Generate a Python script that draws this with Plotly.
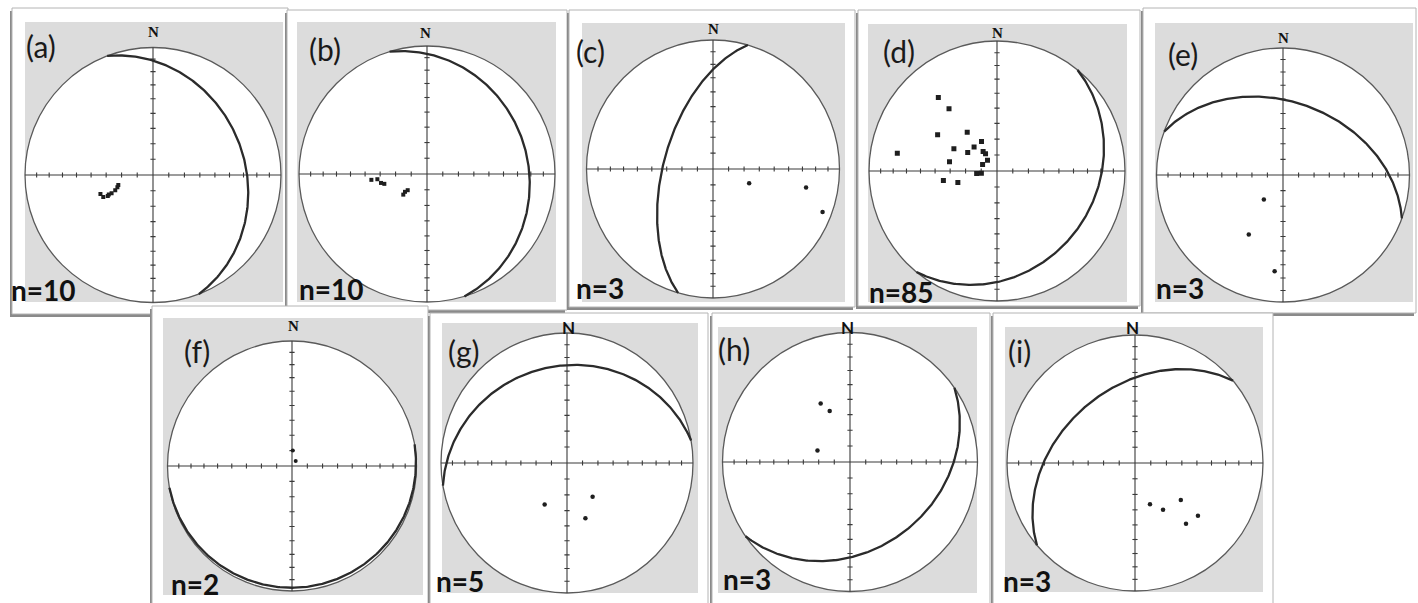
import numpy as np
import plotly.graph_objects as go

W, H = 1418, 603

# ---------------------------------------------------------------- data
panel_ids = ["a", "b", "c", "d", "e", "f", "g", "h", "i"]
panel_counts = [10, 10, 3, 85, 3, 2, 5, 3, 3]

# mean plane of each site (strike / dip, right-hand rule)
plane_strike = [339, 343, 196, 39, 290, 80, 260, 55, 230]
plane_dip = [29, 22, 58, 24, 42, 3, 26, 32, 41]

# poles to planes (trend / plunge, degrees)
pole_trend_a = [250, 246, 245, 246, 246, 248, 251, 254]
pole_plunge_a = [54, 55, 58, 59, 61, 64, 66, 67]
pole_trend_b = [264, 264, 259, 257, 229, 231, 230]
pole_plunge_b = [54, 58, 60, 62, 70, 72, 74]
pole_trend_c = [111, 101, 111]
pole_plunge_c = [65, 26, 8]
pole_trend_d = [321, 322, 301, 322, 280, 297, 316, 302, 332,
                324, 326, 318, 281, 294, 263, 262, 260, 254]
pole_plunge_d = [28, 39, 45, 59, 22, 59, 69, 68, 69,
                 75, 77, 81, 59, 80, 77, 80, 55, 64]
pole_trend_e = [218, 210, 185]
pole_plunge_e = [70, 45, 25]
pole_trend_f = [3, 37]
pole_plunge_f = [80, 86]
pole_trend_g = [209, 142, 161]
pole_plunge_g = [60, 63, 53]
pole_trend_h = [333, 338, 289]
pole_plunge_h = [48, 55, 68]
pole_trend_i = [160, 149, 129, 130, 140]
pole_plunge_i = [62, 55, 52, 36, 38]

pole_trends = [pole_trend_a, pole_trend_b, pole_trend_c, pole_trend_d, pole_trend_e,
               pole_trend_f, pole_trend_g, pole_trend_h, pole_trend_i]
pole_plunges = [pole_plunge_a, pole_plunge_b, pole_plunge_c, pole_plunge_d, pole_plunge_e,
                pole_plunge_f, pole_plunge_g, pole_plunge_h, pole_plunge_i]

# graticule ticks every 10 degrees of plunge along the N-S and E-W axes
tick_plunges = [80, 70, 60, 50, 40, 30, 20, 10]

# ---------------------------------------------------------------- layout of the sheet (pixels)
net_center = [(153, 175), (427, 174), (713, 169), (997, 171), (1283, 175),
              (292, 466), (567, 463), (850, 462), (1135, 463)]
net_radius = [(128, 127.5), (128, 128), (126.5, 129), (128, 130), (126.5, 127),
              (124.5, 125), (126, 130), (127.5, 129.5), (128, 128)]
frame_box = [(12, 8, 288, 314), (287, 10, 567, 310), (569, 10, 855, 307),
             (858, 10, 1140, 306), (1143, 8, 1416, 313),
             (152, 306, 428, 610), (430, 313, 708, 610), (712, 313, 990, 610),
             (993, 313, 1273, 610)]
gray_box = [(25, 22, 283, 302), (297, 22, 556, 302), (582, 23, 845, 302),
            (868, 24, 1127, 302), (1155, 23, 1413, 302),
            (163, 318, 423, 595), (442, 323, 698, 593), (718, 327, 977, 593),
            (1005, 327, 1263, 592)]
tag_pos = [(24, 46), (307, 49), (574, 51), (881, 51), (1166, 54),
           (182, 351), (446, 351), (716, 349), (1006, 351)]
count_pos = [(9, 290), (297, 289), (574, 288), (867, 292), (1154, 288),
             (169, 584), (434, 581), (721, 579), (1001, 581)]
north_pos = [(153, 32), (426, 33), (713, 29), (997, 33), (1283, 38),
             (293, 326), (568, 327), (848, 327), (1132, 327)]
north_sans = [False, False, False, False, False, False, True, True, True]
pole_symbol = ["square", "square", "circle", "square", "circle",
               "circle", "circle", "circle", "circle"]
pole_size = [4, 4, 4.5, 5, 4.5, 4, 4.5, 4.5, 4.5]

LINE_DARK = "#2b2b2b"
PRIM = "#5a5a5a"
GRAY_BG = "#dcdcdc"


def project(trend, plunge):
    """Lambert equal-area (Schmidt) projection, lower hemisphere."""
    tr = np.radians(np.asarray(trend, dtype=float))
    pl = np.radians(np.asarray(plunge, dtype=float))
    r = np.sqrt(2.0) * np.sin((np.pi / 2 - pl) / 2)
    return r * np.sin(tr), r * np.cos(tr)


def great_circle(strike, dip, n=241):
    s = np.radians(strike)
    d = np.radians(dip)
    dd = s + np.pi / 2
    t = np.linspace(0, np.pi, n)
    sv = np.array([np.sin(s), np.cos(s), 0.0])
    dv = np.array([np.cos(d) * np.sin(dd), np.cos(d) * np.cos(dd), np.sin(d)])
    v = np.outer(np.cos(t), sv) + np.outer(np.sin(t), dv)
    plunge = np.degrees(np.arcsin(np.clip(v[:, 2], -1, 1)))
    trend = np.degrees(np.arctan2(v[:, 0], v[:, 1]))
    return project(trend, plunge)


def px(x):
    return x / W


def py(y):
    return 1 - y / H


fig = go.Figure()
shapes = []
annotations = []
L = 1.04

for k, pid in enumerate(panel_ids):
    # frame, drop shadow and grey plotting area
    x0, y0, x1, y1 = frame_box[k]
    shapes.append(dict(type="rect", xref="paper", yref="paper", layer="below",
                       x0=px(x0 - 2), x1=px(x1 - 2), y0=py(y1 + 3), y1=py(y0 + 3),
                       fillcolor="#8a8a8a", line=dict(width=0)))
    shapes.append(dict(type="rect", xref="paper", yref="paper", layer="below",
                       x0=px(x0), x1=px(x1), y0=py(y1), y1=py(y0),
                       fillcolor="white", line=dict(color="#b4b4b4", width=1)))
    g0, h0, g1, h1 = gray_box[k]
    shapes.append(dict(type="rect", xref="paper", yref="paper", layer="below",
                       x0=px(g0), x1=px(g1), y0=py(h1), y1=py(h0),
                       fillcolor=GRAY_BG, line=dict(width=0)))

for k, pid in enumerate(panel_ids):
    ax = "" if k == 0 else str(k + 1)
    cx, cy = net_center[k]
    rx, ry = net_radius[k]
    fig.update_layout(**{
        f"xaxis{ax}": dict(domain=[px(cx - L * rx), px(cx + L * rx)], range=[-L, L],
                           visible=False, fixedrange=True, anchor=f"y{ax}"),
        f"yaxis{ax}": dict(domain=[py(cy + L * ry), py(cy - L * ry)], range=[-L, L],
                           visible=False, fixedrange=True, anchor=f"x{ax}"),
    })
    xr, yr = f"x{ax}", f"y{ax}"

    # primitive circle
    shapes.append(dict(type="circle", xref=xr, yref=yr, layer="below",
                       x0=-1, x1=1, y0=-1, y1=1, fillcolor="white",
                       line=dict(color=PRIM, width=1.3)))

    # N-S / E-W axes with 10 degree ticks
    fig.add_trace(go.Scatter(x=[-1, 1, None, 0, 0], y=[0, 0, None, -1, 1], xaxis=xr, yaxis=yr,
                             mode="lines", line=dict(color="#3a3a3a", width=1.1),
                             hoverinfo="skip", showlegend=False))
    rt, _ = project(90, tick_plunges)
    hx, hy = 2.6 / rx, 2.6 / ry
    tx, ty = [], []
    for r in rt:
        for sgn in (-1, 1):
            tx += [sgn * r, sgn * r, None, -hx, hx, None]
            ty += [-hy, hy, None, sgn * r, sgn * r, None]
    fig.add_trace(go.Scatter(x=tx, y=ty, xaxis=xr, yaxis=yr, mode="lines",
                             line=dict(color="#3a3a3a", width=1.1),
                             hoverinfo="skip", showlegend=False))

    # mean plane
    gx, gy = great_circle(plane_strike[k], plane_dip[k])
    fig.add_trace(go.Scatter(x=gx, y=gy, xaxis=xr, yaxis=yr, mode="lines",
                             line=dict(color=LINE_DARK, width=2.3),
                             hoverinfo="skip", showlegend=False))

    # poles
    ex, ny = project(pole_trends[k], pole_plunges[k])
    fig.add_trace(go.Scatter(x=ex, y=ny, xaxis=xr, yaxis=yr, mode="markers",
                             marker=dict(symbol=pole_symbol[k], size=pole_size[k], color="#1e1e1e",
                                         line=dict(width=0)),
                             hoverinfo="skip", showlegend=False))

    # texts
    tx_, ty_ = tag_pos[k]
    annotations.append(dict(xref="paper", yref="paper", x=px(tx_), y=py(ty_),
                            xanchor="left", yanchor="middle", showarrow=False,
                            text=f"({pid})",
                            font=dict(family="Lato", size=30, color="#1a1a1a")))
    nx_, ny_ = count_pos[k]
    annotations.append(dict(xref="paper", yref="paper", x=px(nx_), y=py(ny_),
                            xanchor="left", yanchor="middle", showarrow=False,
                            text=f"<b>n={panel_counts[k]}</b>",
                            font=dict(family="Lato", size=28, color="#111111")))
    qx, qy = north_pos[k]
    annotations.append(dict(xref="paper", yref="paper", x=px(qx), y=py(qy),
                            xanchor="center", yanchor="middle", showarrow=False,
                            text="<b>N</b>",
                            font=dict(family="Lato" if north_sans[k] else "Liberation Serif",
                                      size=17 if north_sans[k] else 15, color="#111111")))

fig.update_layout(width=W, height=H, margin=dict(l=0, r=0, t=0, b=0),
                  paper_bgcolor="white", plot_bgcolor="rgba(0,0,0,0)",
                  shapes=shapes, annotations=annotations, showlegend=False)

fig.write_html("out.html")
